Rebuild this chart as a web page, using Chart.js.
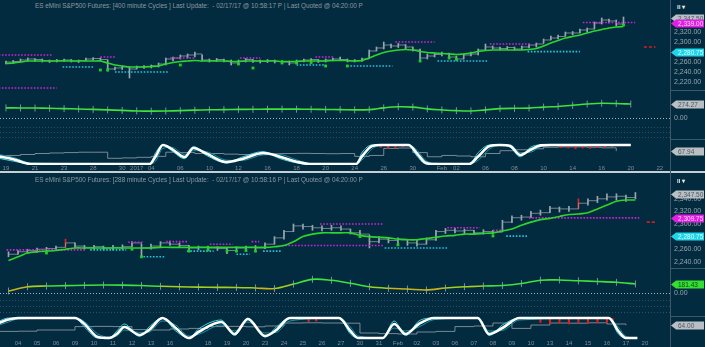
<!DOCTYPE html>
<html>
<head>
<meta charset="utf-8">
<script src="https://cdn.jsdelivr.net/npm/chart.js@4.4.1/dist/chart.umd.min.js"></script>
<style>
  body { margin: 0; background: #022b40; }
  #wrap { position: relative; width: 705px; height: 347px; overflow: hidden; background: #022b40;
          font-family: 'Liberation Sans', Arial, sans-serif; }
  canvas { position: absolute; left: 0; }
  .title { position: absolute; left: 35px; font-size: 6.4px; color: #8d989f; white-space: pre; }
  .rule { position: absolute; background: #3d5866; }
  .band { position: absolute; left: 0; width: 705px; height: 2px; background: #c6cfd3; }
  .menu { position: absolute; left: 677px; font-size: 6px; font-weight: bold; color: #e8eef0; }
</style>
</head>
<body>
<div id="wrap">
  <div class="title" style="top:2px">ES eMini S&amp;P500 Futures: [400 minute Cycles ] Last Update:  - 02/17/17 @ 10:58:17 P | Last Quoted @ 04:20:00 P</div>
  <div class="menu" style="top:3px">ll ▾</div>
  <canvas id="topPrice" width="705" height="80" style="top:10px"></canvas>
  <canvas id="topOsc" width="705" height="49" style="top:90px"></canvas>
  <canvas id="topCycle" width="705" height="33" style="top:139px"></canvas>
  <div class="band" style="top:171px"></div>
  <div class="title" style="top:176px">ES eMini S&amp;P500 Futures: [288 minute Cycles ] Last Update:  - 02/17/17 @ 10:58:16 P | Last Quoted @ 04:20:00 P</div>
  <div class="menu" style="top:177px">ll ▾</div>
  <canvas id="botPrice" width="705" height="84" style="top:184px"></canvas>
  <canvas id="botOsc" width="705" height="48" style="top:268px"></canvas>
  <canvas id="botCycle" width="705" height="31" style="top:316px"></canvas>
  <div class="rule" style="left:670px;top:0;width:1px;height:347px"></div>
  <div class="rule" style="left:670px;top:90px;width:35px;height:1px"></div>
  <div class="rule" style="left:670px;top:139px;width:35px;height:1px"></div>
  <div class="rule" style="left:670px;top:268px;width:35px;height:1px"></div>
  <div class="rule" style="left:670px;top:316px;width:35px;height:1px"></div>
</div>
<script>
// ---------- 400 minute cycles (upper block) ----------
// date axis: trading-day positions and their labels
const topTickDays = [0,2,4,6,8,9,10,12,14,16,18,20,22,24,26,28,30,31,33,35,37,39,41,43,45];
const topTickText = ['19','21','23','28','30','2017','04','06','10','12','16','18','20','24','26','30','Feb','02','06','08','10','14','16','20','22'];

// price bars, two per trading day starting at day 0
const topLow = [2256,2257,2260,2262,2261,2260,2259,2260,2261,2260,2259,2262,2263,2262,2242,2244,2245,2228,2246,2247,
  2248,2250,2254,2262,2266,2268,2270,2262,2260,2261,2260,2254,2256,2260,2259,2258,2259,2258,2257,2254,
  2258,2260,2261,2259,2260,2262,2263,2260,2260,2261,2268,2282,2286,2288,2289,2286,2282,2262,2266,2270,
  2272,2268,2263,2266,2272,2274,2284,2286,2284,2285,2284,2285,2288,2290,2298,2304,2306,2312,2314,2318,
  2320,2326,2336,2338,2332,2334];
const topHigh = [2262,2263,2266,2268,2267,2266,2264,2265,2266,2265,2264,2268,2269,2268,2264,2250,2252,2250,2252,2253,
  2254,2258,2268,2270,2274,2276,2280,2274,2266,2267,2266,2264,2264,2267,2265,2264,2265,2264,2263,2262,
  2264,2266,2267,2265,2266,2268,2270,2266,2265,2268,2284,2290,2300,2296,2297,2295,2290,2286,2276,2278,
  2280,2278,2272,2276,2280,2286,2296,2292,2290,2291,2290,2292,2296,2298,2306,2312,2314,2320,2321,2326,
  2328,2340,2348,2346,2344,2350];
const topClose = [2260,2261,2264,2266,2265,2263,2262,2263,2264,2262,2263,2266,2267,2265,2246,2248,2250,2246,2250,2251,
  2252,2256,2266,2268,2272,2274,2276,2264,2263,2265,2262,2258,2262,2265,2262,2261,2263,2261,2260,2258,
  2262,2264,2265,2262,2264,2266,2265,2262,2263,2266,2282,2288,2294,2292,2294,2290,2284,2268,2272,2275,
  2277,2270,2266,2274,2276,2284,2290,2288,2287,2289,2286,2290,2294,2296,2304,2308,2311,2318,2318,2324,
  2326,2338,2344,2342,2336,2347.5];
const topTrend = [2257,2258,2260,2262,2262,2262,2262,2262,2262,2262,2262,2262,2262,2262,2258,2254,2252,2250,2250,2250,
  2251,2252,2256,2259,2261,2262,2263,2262,2262,2262,2262,2261,2261,2262,2262,2262,2262,2262,2261,2261,
  2261,2262,2262,2262,2262,2263,2263,2263,2262,2263,2268,2274,2279,2282,2284,2285,2284,2281,2279,2278,
  2277,2276,2275,2276,2278,2281,2283,2284,2284,2284,2284,2284,2285,2287,2292,2298,2303,2308,2311,2314,
  2318,2322,2325,2328,2330,2331];
const topSignalBars = [13,14,24,32,34,38,40,42,44,47,57,61,62,85];
const topSignalVals = [2244,2244,2254,2256,2248,2258,2258,2259,2252,2252,2262,2268,2266,2334];
const topResistTag = 2339.00;
const topSupportTag = 2280.75;
// [from day, to day, price]
const topResist = [[-0.5,3.2,2274],[6.5,7.5,2270],[11.3,13,2268],[16.1,17.5,2268],[21.3,22.6,2270],
  [26.8,29.5,2300],[33.3,36.1,2296],[39.7,43.3,topResistTag],[-0.5,3.5,2208]];
const topSupport = [[3.9,6.1,2250],[7.5,11.2,2240],[20,22,2254],[23.7,26.6,2252],[29.7,33.2,2262],[35.9,39.5,topSupportTag]];
const topProjection = [[43.9,44.7,2290]];

// momentum oscillator, one value per trading day
const topOsc = [200,198,196,192,185,178,170,160,150,140,136,138,145,155,162,165,170,172,175,176,
  175,172,168,165,160,165,200,222,215,180,160,145,140,160,185,192,195,215,228,250,
  275,290,285,274.27];

// cycle lines (day, value)
const topCycleDays = [-0.5,0.5,1.7,9.9,10.3,10.8,11.4,12.3,12.9,13.8,15.2,16.2,17.7,18.8,20.0,20.9,24.1,
  24.5,25.2,25.8,27.7,28.3,28.8,29.3,31.9,32.5,33.3,34.0,34.7,35.4,36.1,36.8,37.5,43.0];
const topCycleWhite = [40,25,0,0,40,100,80,37,84,55,10,25,58,40,12,0,0,40,95,100,100,55,10,0,0,40,95,100,95,47,75,98,100,100];
const topCycleFast = [30,15,0,0,60,100,70,28,92,45,6,35,65,30,6,0,0,60,100,100,98,40,4,0,0,60,100,100,88,38,88,100,100,100];
const topCycleSlow = [50,35,5,0,15,82,88,50,70,65,20,18,48,50,22,3,0,20,80,98,100,72,25,5,0,20,80,100,100,60,62,92,100,100];
const topCycleGray = [45,50,55,58,60,62,62,30,32,35,40,62,60,55,55,52,50,52,54,55,
  56,55,54,55,40,45,82,84,60,38,45,42,38,55,70,75,80,88,90,90,88,85,67.94];
const topRedDays = [25.8,26.3,26.8,27.3,38.2,38.7,39.2,39.7,40.2,40.7,41.2,41.7];
const topRedLow = [88,82,84,90,86,84,80,84,82,86,88,92];

// ---------- 288 minute cycles (lower block) ----------
const botTickDays = [0,1,2,3,4,5,6,7,8,9,10,11,12,13,14,15,16,17,18,19,20,21,22,23,24,25,26,27,28,29,30,31,32,33];
const botTickText = ['04','05','06','09','10','11','12','13','16','','18','19','20','23','24','25','26','27','30','31',
  'Feb','02','03','06','07','08','09','10','13','14','15','16','17','20'];

// price bars, two per trading day starting at day -0.5
const botLow = [2248,2252,2254,2255,2256,2258,2262,2262,2260,2260,2259,2259,2260,2264,2248,2260,2264,2266,2263,2258,
  2259,2259,2258,2253,2256,2258,2259,2261,2268,2276,2288,2292,2290,2289,2290,2290,2284,2280,2262,2270,
  2270,2268,2266,2265,2268,2274,2285,2286,2285,2283,2284,2284,2288,2302,2306,2310,2314,2318,2319,2320,
  2324,2330,2334,2338,2338,2336,2340];
const botHigh = [2256,2258,2260,2262,2263,2265,2276,2270,2266,2266,2265,2266,2267,2272,2268,2268,2272,2273,2270,2266,
  2265,2265,2264,2263,2264,2265,2266,2270,2280,2290,2300,2300,2298,2297,2298,2297,2292,2290,2282,2280,
  2279,2278,2274,2274,2278,2290,2293,2293,2292,2290,2291,2290,2306,2313,2314,2320,2322,2328,2327,2328,
  2340,2340,2344,2348,2348,2346,2350];
const botClose = [2252,2256,2258,2260,2261,2263,2270,2265,2263,2264,2262,2263,2264,2270,2262,2265,2270,2268,2266,2262,
  2263,2262,2261,2258,2262,2263,2262,2268,2278,2288,2297,2296,2294,2293,2294,2292,2286,2284,2272,2276,
  2274,2276,2270,2268,2275,2288,2290,2289,2290,2286,2288,2287,2303,2310,2311,2317,2318,2325,2324,2324,
  2333,2337,2340,2343,2344,2342,2347.5];
const botTrend = [2242,2248,2254,2256,2257,2258,2260,2262,2262,2262,2262,2262,2262,2262,2262,2262,2263,2263,2263,2263,
  2263,2263,2263,2263,2263,2263,2263,2263,2264,2266,2272,2280,2284,2286,2286,2286,2286,2282,2280,2279,
  2278,2276,2275,2275,2277,2279,2281,2282,2284,2284,2285,2286,2289,2292,2298,2303,2307,2309,2312,2315,
  2316,2318,2324,2330,2336,2338,2338];
const botRedBars = [6,60];
const botSignalBars = [4,13,14,19,21,23,24,25,26,37,41,51];
const botSignalVals = [2254,2260,2248,2257,2259,2257,2257,2258,2257,2280,2267,2281];
const botResistTag = 2309.75;
const botSupportTag = 2280.75;
const botResist = [[-0.6,3.6,2259],[5.8,6.6,2271],[7.8,8.9,2272],[10.1,11.3,2268],[12.3,12.7,2272],
  [13.9,19.2,2266],[15.9,19.2,2300],[22.6,24.3,2294],[25,25.7,2290],[26.9,32.7,botResistTag]];
const botSupport = [[3.8,5.7,2259],[6.6,7.7,2248],[8.9,10.3,2257],[11.5,12.2,2252],[12.9,13.9,2257],
  [19.3,22.6,2262],[25.7,26.8,botSupportTag]];
const botProjection = [[33.1,33.6,2303]];

// momentum oscillator, one value per trading day starting at day -0.5
const botOsc = [40,125,140,148,155,160,158,150,135,125,118,114,112,102,90,180,275,255,195,125,
  94,80,62,100,127,140,150,190,258,262,245,232,215,181.43];

const botCycleDays = [-1,-0.5,0,3,3.5,4.2,4.8,5.2,5.6,6.4,6.9,7.6,8.3,9.0,9.5,10.7,11.4,12.1,13.0,13.6,
  14.3,16.9,17.5,17.9,19.2,19.8,20.4,21.1,21.9,24.2,24.8,25.5,26.4,31.1,31.6,32.0,32.6];
const botCycleWhite = [75,92,100,100,70,5,0,20,55,15,40,100,50,0,30,80,20,95,10,40,100,100,35,0,0,70,20,70,100,100,20,50,100,100,35,0,0];
const botCycleFast = [85,100,100,100,55,0,0,35,70,8,55,100,35,0,45,90,12,100,5,55,100,100,20,0,0,85,12,85,100,100,12,65,100,100,20,0,0];
const botCycleSlow = [65,80,95,100,82,20,5,10,40,28,30,85,65,10,18,65,35,80,25,28,85,100,55,10,0,50,35,55,92,100,35,38,90,100,55,8,0];
const botCycleGray = [33,34,40,40,57,58,57,42,40,45,48,57,58,56,60,75,76,75,74,25,
  22,20,30,33,57,60,75,48,65,75,74,76,70,64.00];
const botRedDays = [15.3,15.7,27.5,28,28.5,29,29.5,30,30.5,31,31.3];
const botRedLow = [82,85,78,72,74,70,76,72,75,78,88];
const redTop = 97;

// ---------- drawing ----------
Chart.defaults.font.family = "'Liberation Sans', Arial, sans-serif";
Chart.defaults.font.size = 7;
Chart.defaults.color = '#9aa5ac';
Chart.defaults.animation = false;
Chart.defaults.responsive = false;
Chart.defaults.devicePixelRatio = 1;
Chart.defaults.plugins.legend.display = false;
Chart.defaults.plugins.tooltip.enabled = false;

const fmt2 = v => v.toLocaleString('en-US', { minimumFractionDigits: 2, maximumFractionDigits: 2 });
const pts = (start, step, vals) => vals.map((v, i) => ({ x: start + i * step, y: v }));
const ptsAt = (xs, vals) => vals.map((v, i) => ({ x: xs[i], y: v }));

const GRAY_TAG = ['#b9bfc3', '#4b5861'];
const MAG_TAG = ['#e21ee4', '#fbd8fb'];
const CYAN_TAG = ['#1fd5ea', '#dcfbff'];
const GREEN_TAG = ['#35de33', '#0d4a10'];

// arrow-shaped value tags in the right gutter
function axisTags(items) {
  return {
    id: 'axisTags',
    afterDraw(chart) {
      const { ctx } = chart;
      const y = chart.scales.y;
      const x0 = chart.chartArea.right + 1;
      ctx.save();
      ctx.font = "6.5px 'Liberation Sans', Arial, sans-serif";
      ctx.textBaseline = 'middle';
      items.forEach(t => {
        const py = Math.round(y.getPixelForValue(t.value)) + 0.5;
        ctx.fillStyle = t.colors[0];
        ctx.beginPath();
        ctx.moveTo(x0, py);
        ctx.lineTo(x0 + 5, py - 4);
        ctx.lineTo(chart.width - 1, py - 4);
        ctx.lineTo(chart.width - 1, py + 4);
        ctx.lineTo(x0 + 5, py + 4);
        ctx.closePath();
        ctx.fill();
        ctx.fillStyle = t.colors[1];
        ctx.fillText(fmt2(t.value), x0 + 7, py + 0.5);
      });
      ctx.restore();
    }
  };
}

// dotted horizontal reference lines
function guides(items) {
  return {
    id: 'guides',
    beforeDatasetsDraw(chart) {
      const { ctx, chartArea } = chart;
      const y = chart.scales.y;
      ctx.save();
      items.forEach(g => {
        const py = Math.round(y.getPixelForValue(g.value)) + 0.5;
        ctx.strokeStyle = g.color;
        ctx.lineWidth = 1;
        ctx.setLineDash([1, 2]);
        ctx.beginPath();
        ctx.moveTo(chartArea.left, py);
        ctx.lineTo(chartArea.right, py);
        ctx.stroke();
      });
      ctx.restore();
    }
  };
}

// right gutter is a fixed 35px and must not shrink the plot vertically
function fitRight(s) {
  s.width = 35;
  s.paddingTop = 0;
  s.paddingBottom = 0;
}

function rightAxis(min, max, tickVals, label) {
  return {
    position: 'right', min, max,
    afterFit: fitRight,
    afterBuildTicks: s => { s.ticks = tickVals.map(v => ({ value: v })); },
    ticks: { padding: 4, font: { size: 7 }, color: '#9aa5ac', callback: label },
    grid: { display: false, drawTicks: false },
    border: { display: false }
  };
}

function hiddenX(range) {
  return { type: 'linear', min: range[0], max: range[1], offset: false, display: false };
}

function dateX(range, days, text) {
  return {
    type: 'linear', min: range[0], max: range[1], offset: false, position: 'bottom',
    afterFit: s => { s.height = 7; s.paddingLeft = 0; s.paddingRight = 0; },
    afterBuildTicks: s => { s.ticks = days.map(v => ({ value: v })); },
    ticks: { autoSkip: false, maxRotation: 0, padding: 0, font: { size: 6 }, color: '#7e8c94',
             callback: (v, i) => text[i] },
    grid: { display: false, drawTicks: false },
    border: { display: false }
  };
}

function levelLine(seg, color, dash) {
  return {
    type: 'line', order: 2,
    data: [{ x: seg[0], y: seg[2] }, { x: seg[1], y: seg[2] }],
    borderColor: color, borderWidth: 1.6, borderDash: dash || [1.6, 1.6], pointRadius: 0
  };
}

const layout = { autoPadding: false, padding: 0 };

function priceChart(id, p) {
  const barX = i => p.start + i * 0.5;
  const datasets = [
    { type: 'line', order: 1, data: pts(p.start, 0.5, p.trend),
      borderColor: '#2bd62b', borderWidth: 1.6, pointRadius: 0, tension: 0.25 },
    { type: 'line', order: 0, data: p.signalBars.map((b, k) => ({ x: barX(b), y: p.signalVals[k] })),
      showLine: false, pointStyle: 'rect', pointRadius: 2, pointBackgroundColor: '#1fcf1f', pointBorderWidth: 0 },
    { type: 'line', order: 3, data: pts(p.start, 0.5, p.close), stepped: true,
      borderColor: 'rgba(150,160,166,0.75)', borderWidth: 1, pointRadius: 0 },
    { type: 'bar', order: 4, grouped: false, barThickness: 1,
      data: p.close.map((c, i) => ({ x: barX(i), y: [p.low[i], p.high[i]] })),
      backgroundColor: p.close.map((c, i) => p.red.includes(i) ? '#e52222' : '#9ca6ac') }
  ];
  p.resist.forEach(s => datasets.push(levelLine(s, '#d41ed8')));
  p.support.forEach(s => datasets.push(levelLine(s, '#20c6dc')));
  p.projection.forEach(s => datasets.push(levelLine(s, '#d42020', [3, 2])));
  new Chart(document.getElementById(id), {
    type: 'bar',
    data: { datasets },
    options: {
      layout,
      scales: { x: hiddenX(p.range), y: rightAxis(p.min, p.max, p.ticks, fmt2) }
    },
    plugins: [axisTags([
      { value: p.close[p.close.length - 1], colors: GRAY_TAG },
      { value: p.resistTag, colors: MAG_TAG },
      { value: p.supportTag, colors: CYAN_TAG }
    ])]
  });
}

const oscShade = v => v < 50 ? '#d27a1e' : v < 100 ? '#c9b418' : v < 140 ? '#a4cf1e' : '#3ee23a';

function oscChart(id, o) {
  const data = pts(o.start, 1, o.values);
  new Chart(document.getElementById(id), {
    type: 'line',
    data: {
      datasets: [
        { order: 0, data, borderColor: '#3ee23a', borderWidth: 1.6, pointRadius: 0, tension: 0.35,
          segment: o.shaded ? { borderColor: c => oscShade((c.p0.parsed.y + c.p1.parsed.y) / 2) } : {} },
        { order: 1, data, showLine: false, pointStyle: 'line', rotation: 90, pointRadius: 3.5,
          pointBorderColor: 'rgba(175,185,190,0.7)', pointBorderWidth: 1 }
      ]
    },
    options: {
      layout,
      scales: { x: hiddenX(o.range), y: rightAxis(o.min, o.max, [0], v => fmt2(v)) }
    },
    plugins: [
      guides([
        { value: 0, color: 'rgba(205,215,220,0.8)' },
        ...o.grid.map(v => ({ value: v, color: 'rgba(120,150,165,0.35)' }))
      ]),
      axisTags([{ value: o.values[o.values.length - 1], colors: o.tag }])
    ]
  });
}

function cycleChart(id, c) {
  new Chart(document.getElementById(id), {
    type: 'bar',
    data: {
      datasets: [
        { type: 'line', order: 0, data: ptsAt(c.days, c.white), borderColor: '#ffffff', borderWidth: 2.6,
          pointRadius: 0, cubicInterpolationMode: 'monotone' },
        { type: 'line', order: 1, data: ptsAt(c.days, c.fast), borderColor: '#3fd6e4', borderWidth: 1,
          pointRadius: 0, cubicInterpolationMode: 'monotone' },
        { type: 'line', order: 2, data: ptsAt(c.days, c.slow), borderColor: '#1b93a8', borderWidth: 1,
          pointRadius: 0, cubicInterpolationMode: 'monotone' },
        { type: 'bar', order: 3, grouped: false, barThickness: 1.5, backgroundColor: '#e41c1c',
          data: c.redDays.map((d, i) => ({ x: d, y: [c.redLow[i], redTop] })) },
        { type: 'line', order: 4, data: pts(c.grayStart, 1, c.gray), stepped: true,
          borderColor: 'rgba(150,160,166,0.8)', borderWidth: 1, pointRadius: 0 }
      ]
    },
    options: {
      layout,
      scales: {
        x: dateX(c.range, c.tickDays, c.tickText),
        y: { position: 'right', min: c.min, max: c.max, afterFit: fitRight,
             ticks: { display: false }, grid: { display: false, drawTicks: false }, border: { display: false } }
      }
    },
    plugins: [axisTags([{ value: c.gray[c.gray.length - 1], colors: GRAY_TAG }])]
  });
}

// upper block
const topRange = [-0.41, 45.7];
priceChart('topPrice', {
  start: 0, range: topRange, min: 2204, max: 2364, ticks: [2220, 2240, 2260, 2300, 2320],
  low: topLow, high: topHigh, close: topClose, trend: topTrend, red: [],
  signalBars: topSignalBars, signalVals: topSignalVals,
  resist: topResist, support: topSupport, projection: topProjection,
  resistTag: topResistTag, supportTag: topSupportTag
});
oscChart('topOsc', { start: 0, range: topRange, min: -410, max: 550, values: topOsc,
  grid: [-170, -270, -370], tag: GRAY_TAG, shaded: false });
cycleChart('topCycle', { range: topRange, min: -5.3, max: 131.5, days: topCycleDays,
  white: topCycleWhite, fast: topCycleFast, slow: topCycleSlow, gray: topCycleGray, grayStart: 0,
  redDays: topRedDays, redLow: topRedLow, tickDays: topTickDays, tickText: topTickText });

// lower block
const botRange = [-0.947, 34.32];
priceChart('botPrice', {
  start: -0.5, range: botRange, min: 2230.2, max: 2363.5, ticks: [2240, 2260, 2300, 2320, 2340],
  low: botLow, high: botHigh, close: botClose, trend: botTrend, red: botRedBars,
  signalBars: botSignalBars, signalVals: botSignalVals,
  resist: botResist, support: botSupport, projection: botProjection,
  resistTag: botResistTag, supportTag: botSupportTag
});
oscChart('botOsc', { start: -0.5, range: botRange, min: -463, max: 503, values: botOsc,
  grid: [-140, -260, -380], tag: GREEN_TAG, shaded: true });
cycleChart('botCycle', { range: botRange, min: -10, max: 110, days: botCycleDays,
  white: botCycleWhite, fast: botCycleFast, slow: botCycleSlow, gray: botCycleGray, grayStart: -1,
  redDays: botRedDays, redLow: botRedLow, tickDays: botTickDays, tickText: botTickText });
</script>
</body>
</html>
